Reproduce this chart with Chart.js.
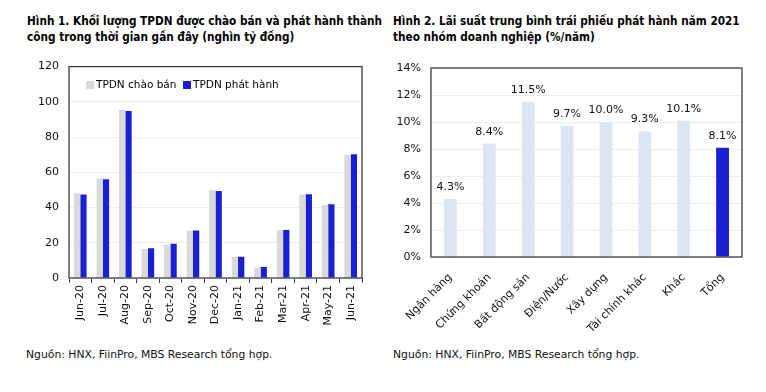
<!DOCTYPE html>
<html>
<head>
<meta charset="utf-8">
<script src="https://cdn.jsdelivr.net/npm/chart.js@4.4.1/dist/chart.umd.min.js"></script>
<style>
  body { margin: 0; background: #fff; width: 766px; height: 392px; position: relative; overflow: hidden; font-family: "DejaVu Sans", Verdana, sans-serif; color: #000; }
  .title { position: absolute; top: 13px; font-family: "DejaVu Sans Condensed", "DejaVu Sans", sans-serif; font-weight: bold; font-size: 11.7px; line-height: 16px; white-space: nowrap; }
  .src { position: absolute; top: 348px; font-size: 10.8px; line-height: 14px; white-space: nowrap; color: #111; }
  .cv { position: absolute; top: 50px; }
  .legend { position: absolute; top: 77px; left: 86px; font-size: 10.5px; line-height: 14px; white-space: nowrap; }
  .legend span.sq { display: inline-block; width: 8px; height: 8px; margin-right: 2px; vertical-align: -0.5px; }
</style>
</head>
<body>
<div class="title" style="left:27px">Hình 1. Khối lượng TPDN được chào bán và phát hành thành<br>công trong thời gian gần đây (nghìn tỷ đồng)</div>
<div class="title" style="left:393px">Hình 2. Lãi suất trung bình trái phiếu phát hành năm 2021<br>theo nhóm doanh nghiệp (%/năm)</div>

<canvas id="c1" class="cv" style="left:0px" width="375" height="285"></canvas>
<canvas id="c2" class="cv" style="left:383px" width="375" height="285"></canvas>

<div class="legend"><span class="sq" style="background:#d9d9d9"></span>TPDN chào bán&nbsp;&nbsp;<span class="sq" style="background:#1a1fd2"></span>TPDN phát hành</div>

<div class="src" style="left:26px">Nguồn: HNX, FiinPro, MBS Research tổng hợp.</div>
<div class="src" style="left:393px">Nguồn: HNX, FiinPro, MBS Research tổng hợp.</div>

<script>
const months = ['Jun-20','Jul-20','Aug-20','Sep-20','Oct-20','Nov-20','Dec-20','Jan-21','Feb-21','Mar-21','Apr-21','May-21','Jun-21'];
const offered = [48.1, 56.5, 95.4, 16.5, 18.9, 26.9, 49.8, 12.0, 5.9, 27.0, 47.4, 41.5, 69.8];
const issued = [47.4, 56.1, 94.8, 16.9, 19.4, 26.9, 49.4, 12.0, 6.3, 27.2, 47.6, 41.9, 70.2];

const sectors = ['Ngân hàng','Chứng khoán','Bất động sản','Điện/Nước','Xây dựng','Tài chính khác','Khác','Tổng'];
const rates = [4.3, 8.4, 11.5, 9.7, 10.0, 9.3, 10.1, 8.1];

const FONT = "'DejaVu Sans', Verdana, sans-serif";
Chart.defaults.font.family = FONT;
Chart.defaults.color = '#111';

// frame around the plot area
const framePlugin = {
  id: 'frame',
  afterDraw(chart) {
    const a = chart.chartArea, ctx = chart.ctx;
    ctx.save();
    ctx.strokeStyle = '#3c3c3c';
    ctx.lineWidth = 1.3;
    ctx.strokeRect(a.left, a.top, a.right - a.left, a.bottom - a.top);
    ctx.restore();
  }
};

const valueLabels = {
  id: 'valueLabels',
  afterDatasetsDraw(chart) {
    const ctx = chart.ctx;
    const meta = chart.getDatasetMeta(0);
    ctx.save();
    ctx.font = '11px ' + FONT;
    ctx.fillStyle = '#111';
    ctx.textAlign = 'center';
    ctx.textBaseline = 'alphabetic';
    meta.data.forEach((bar, i) => {
      ctx.fillText(rates[i].toFixed(1) + '%', bar.x, bar.y - 9);
    });
    ctx.restore();
  }
};

new Chart(document.getElementById('c1'), {
  type: 'bar',
  data: {
    labels: months,
    datasets: [
      { label: 'TPDN chào bán', data: offered, backgroundColor: '#d9d9d9', categoryPercentage: 0.56, barPercentage: 1.0 },
      { label: 'TPDN phát hành', data: issued, backgroundColor: '#1a1fd2', categoryPercentage: 0.56, barPercentage: 1.0 }
    ]
  },
  options: {
    responsive: false,
    animation: false,
    layout: { padding: { top: 14, right: 13, left: 0, bottom: 0 } },
    plugins: { legend: { display: false }, tooltip: { enabled: false } },
    scales: {
      x: {
        afterFit(s) { s.height = 57; },
        grid: { drawOnChartArea: false, drawTicks: true, tickLength: 5, color: '#3c3c3c', offset: true },
        border: { display: false },
        ticks: { minRotation: 90, maxRotation: 90, padding: 2, font: { size: 11 }, color: '#111' }
      },
      y: {
        min: 0, max: 120,
        afterFit(s) { s.width = 69; },
        grid: { color: '#ececec', drawTicks: false },
        border: { display: false },
        ticks: { stepSize: 20, padding: 10, font: { size: 11 }, color: '#111' }
      }
    }
  },
  plugins: [framePlugin]
});

new Chart(document.getElementById('c2'), {
  type: 'bar',
  data: {
    labels: sectors,
    datasets: [
      { label: 'Lãi suất', data: rates,
        backgroundColor: ['#dce6f2','#dce6f2','#dce6f2','#dce6f2','#dce6f2','#dce6f2','#dce6f2','#1a1fd2'],
        categoryPercentage: 1.0, barPercentage: 0.33 }
    ]
  },
  options: {
    responsive: false,
    animation: false,
    layout: { padding: { top: 18, right: 16, left: 0, bottom: 0 } },
    plugins: { legend: { display: false }, tooltip: { enabled: false } },
    scales: {
      x: {
        afterFit(s) { s.height = 78; },
        grid: { display: false },
        border: { display: false },
        ticks: { minRotation: 45, maxRotation: 45, padding: 6, font: { size: 11 }, color: '#111' }
      },
      y: {
        min: 0, max: 14,
        afterFit(s) { s.width = 48; },
        grid: { color: '#ececec', drawTicks: false },
        border: { display: false },
        ticks: { stepSize: 2, padding: 10, font: { size: 11 }, color: '#111', callback: v => v + '%' }
      }
    }
  },
  plugins: [framePlugin, valueLabels]
});
</script>
</body>
</html>
